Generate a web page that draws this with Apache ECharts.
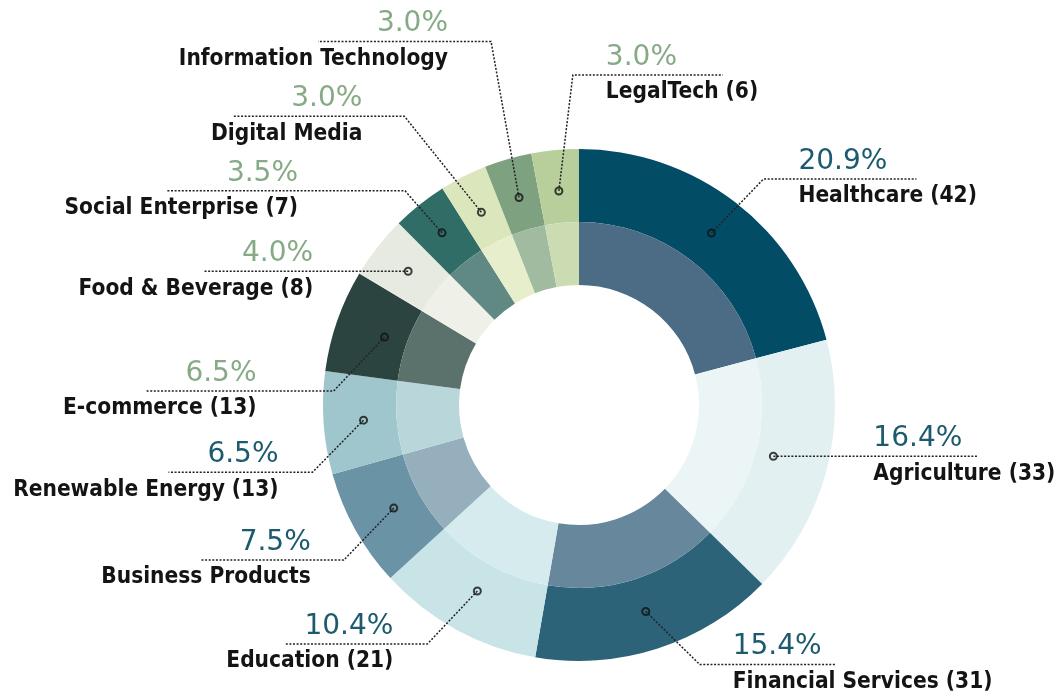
<!DOCTYPE html>
<html><head><meta charset="utf-8">
<script src="https://cdn.jsdelivr.net/npm/echarts@6/dist/echarts.min.js"></script>
<style>html,body{margin:0;padding:0;background:#fff}#c{width:1061px;height:698px}</style>
</head><body><div id="c"></div>
<script>
// ---- data ----
const categories = ['Healthcare','Agriculture','Financial Services','Education','Business Products','Renewable Energy','E-commerce','Food & Beverage','Social Enterprise','Digital Media','Information Technology','LegalTech'];
const values = [42,33,31,21,15,13,13,8,7,6,6,6];
const showCount = [true,true,true,true,false,true,true,true,true,false,false,true];

// ---- styles ----
const outerColors = ['#034c66','#e3f0f1','#2c6379','#c9e4e7','#6a93a6','#9ec6cc','#2c4440','#e7eae0','#2f6d66','#dce6bc','#7ea27f','#b9cf9b'];
const innerColors = ['#4b6c84','#ebf5f6','#66879c','#d6ebed','#95afbd','#b9d6da','#5b716b','#eff1e9','#608984','#e6eecb','#a0bb9f','#cbdcb3'];
const pctTone = ['T','T','T','T','T','T','G','G','G','G','G','G'];

// ---- label layout (pixels) ----
const markRadius = [217,201,217,212,212,216,206,217,220,216,216,215];
const geom = [
  {dx:52,dy:-54,len:153,gap:35,side:1},
  {dx:0,dy:0,len:205,gap:100,side:1},
  {dx:54,dy:53,len:136,gap:33,side:1},
  {dx:-50,dy:53,len:143,gap:34,side:-1},
  {dx:-50,dy:52,len:143,gap:33,side:-1},
  {dx:-51,dy:52,len:144,gap:34,side:-1},
  {dx:-51,dy:54,len:187,gap:77,side:-1},
  {dx:0,dy:0,len:205,gap:95,side:-1},
  {dx:-37,dy:-42,len:238,gap:107,side:-1},
  {dx:-77,dy:-96,len:172,gap:42,side:-1},
  {dx:-28,dy:-156,len:173,gap:43,side:-1},
  {dx:14,dy:-116,len:150,gap:33,side:1}
];

const CENTER = [579, 405];
const R_OUT = 256, R_MID = 183, R_IN = 120, R_LBL = 215;

const total = values.reduce((a,b)=>a+b,0);
const mids = [];
let acc = 0;
values.forEach(v => { mids.push(acc + v/2); acc += v; });

const pieData = cols => values.map((v,i)=>({name:categories[i], value:v, itemStyle:{color:cols[i]}}));

const pctFont = {fontFamily:'DejaVu Sans', fontSize:28, lineHeight:36};
const nameFont = {fontFamily:'DejaVu Sans Condensed, DejaVu Sans', fontWeight:'bold', fontSize:22.5, lineHeight:34, color:'#141414'};
const rich = {
  pTL: Object.assign({color:'#1c5a6d', align:'left'}, pctFont),
  pTR: Object.assign({color:'#1c5a6d', align:'right'}, pctFont),
  pGL: Object.assign({color:'#86aa86', align:'left'}, pctFont),
  pGR: Object.assign({color:'#86aa86', align:'right'}, pctFont),
  nL: Object.assign({align:'left'}, nameFont),
  nR: Object.assign({align:'right'}, nameFont)
};

const chart = echarts.init(document.getElementById('c'), null, {renderer:'canvas'});
chart.setOption({
  animation: false,
  backgroundColor: '#ffffff',
  polar: {center: CENTER, radius: R_OUT},
  angleAxis: {type:'value', min:0, max:total, startAngle:90, clockwise:true, show:false},
  radiusAxis: {type:'value', min:0, max:R_OUT, show:false},
  series: [
    {
      type:'pie', center:CENTER, radius:[R_MID, R_OUT], startAngle:90, clockwise:true,
      silent:true, label:{show:false}, labelLine:{show:false},
      itemStyle:{borderWidth:0}, data: pieData(outerColors), z:1
    },
    {
      type:'pie', center:CENTER, radius:[R_IN, R_MID], startAngle:90, clockwise:true,
      silent:true, label:{show:false}, labelLine:{show:false},
      itemStyle:{borderWidth:0}, data: pieData(innerColors), z:1
    },
    {
      type:'pie', center:CENTER, radius:[R_LBL-1, R_LBL], startAngle:90, clockwise:true,
      silent:true, avoidLabelOverlap:false,
      itemStyle:{color:'rgba(0,0,0,0)', borderWidth:0},
      data: values.map((v,i)=>({name:categories[i], value:v})),
      label:{
        show:true, position:'outside', rich: rich,
        formatter: p => {
          const i = p.dataIndex;
          const s = geom[i].side > 0 ? 'L' : 'R';
          const pct = (values[i] / total * 100).toFixed(1) + '%';
          const nm = showCount[i] ? categories[i] + ' (' + values[i] + ')' : categories[i];
          return '{p' + pctTone[i] + s + '|' + pct + '}\n{n' + s + '|' + nm + '}';
        }
      },
      labelLine:{show:true, length:20, length2:20, smooth:false, lineStyle:{color:'#222', width:1.5, type:[2,1.6]}},
      labelLayout: p => {
        const i = p.dataIndex;
        const g = geom[i];
        const p0 = p.labelLinePoints[0];
        const k = markRadius[i] / R_LBL;
        const s = [CENTER[0] + (p0[0] - CENTER[0]) * k, CENTER[1] + (p0[1] - CENTER[1]) * k];
        const e = [s[0] + g.dx, s[1] + g.dy];
        const end = [e[0] + g.side * g.len, e[1]];
        return {
          x: e[0] + g.side * g.gap,
          y: e[1] - 35.5,
          align: g.side > 0 ? 'left' : 'right',
          verticalAlign: 'top',
          labelLinePoints: [s, e, end]
        };
      },
      z:3
    },
    {
      type:'scatter', coordinateSystem:'polar', silent:true,
      data: mids.map((m,i) => [markRadius[i], m]),
      symbol:'circle', symbolSize:7,
      itemStyle:{color:'rgba(0,0,0,0)', borderColor:'#111', borderWidth:2},
      z:5
    }
  ]
});
</script></body></html>
